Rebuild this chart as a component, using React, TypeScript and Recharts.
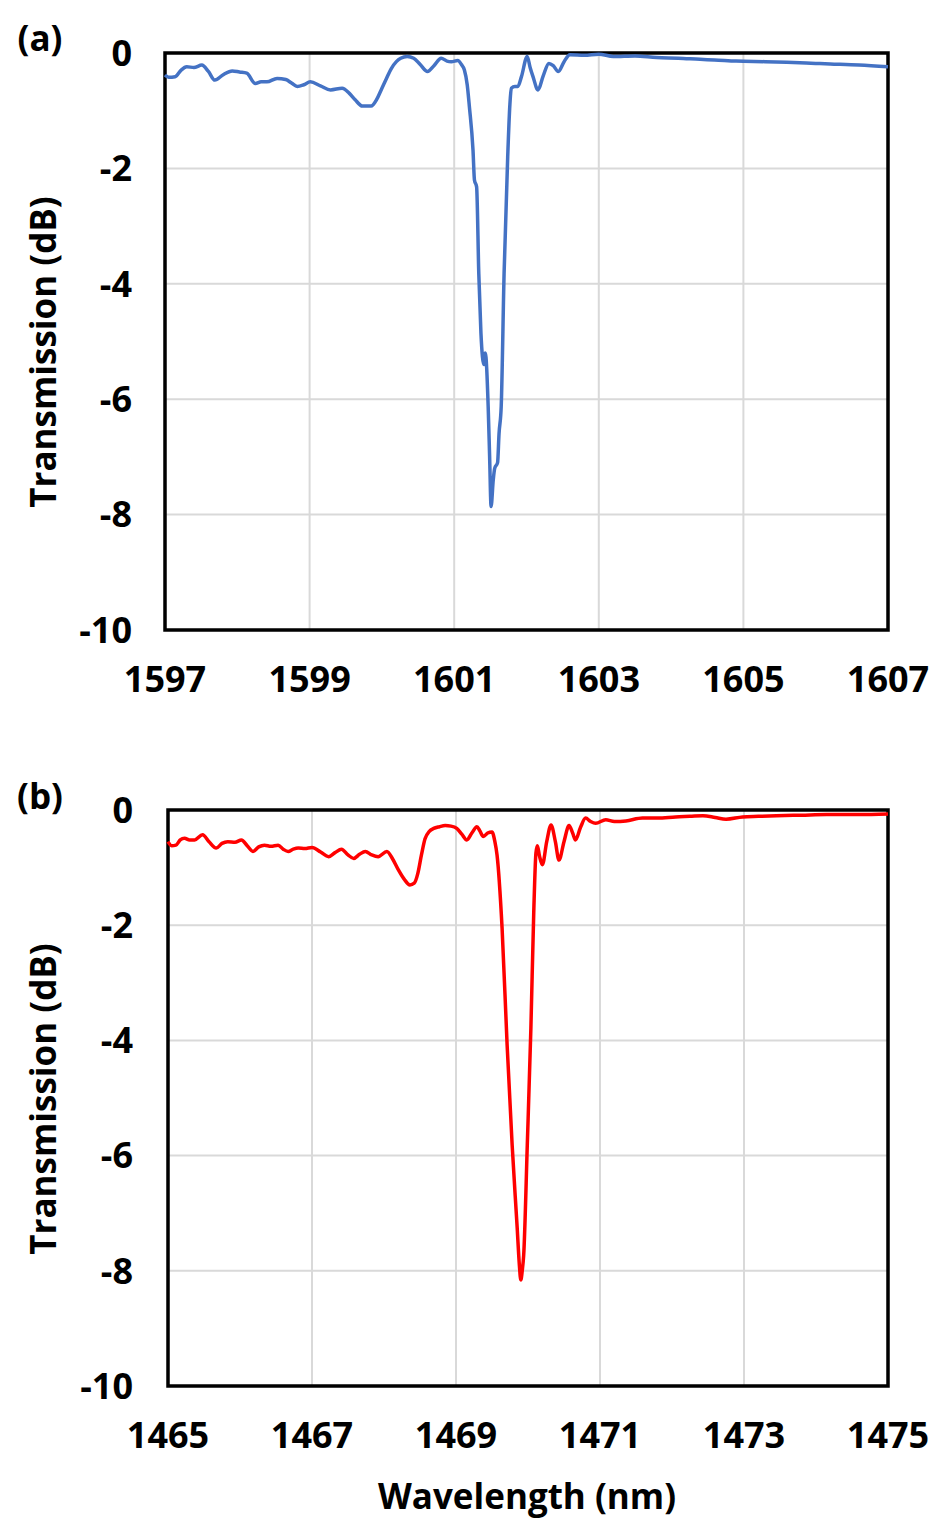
import React from "react"
import {
  CartesianGrid,
  Line,
  LineChart,
  ReferenceArea,
  XAxis,
  YAxis,
} from "recharts"

// (a) spectrum around 1601.5 nm
const wavelengthA = [
  1597.0, 1597.05, 1597.14, 1597.22, 1597.3, 1597.4, 1597.51, 1597.6, 1597.69,
  1597.8, 1597.93, 1598.03, 1598.13, 1598.25, 1598.33, 1598.41, 1598.55,
  1598.67, 1598.75, 1598.83, 1598.92, 1599.01, 1599.15, 1599.29, 1599.45,
  1599.55, 1599.63, 1599.73, 1599.85, 1599.93, 1599.99, 1600.06, 1600.13,
  1600.2, 1600.26, 1600.35, 1600.44, 1600.53, 1600.63, 1600.72, 1600.82,
  1600.9, 1600.96, 1601.05, 1601.1, 1601.14, 1601.18, 1601.21, 1601.26,
  1601.28, 1601.31, 1601.34, 1601.37, 1601.41, 1601.43, 1601.47, 1601.49,
  1601.51, 1601.54, 1601.56, 1601.6, 1601.62, 1601.65, 1601.69, 1601.74,
  1601.77, 1601.79, 1601.84, 1601.88, 1601.93, 1602.01, 1602.05, 1602.09,
  1602.16, 1602.23, 1602.31, 1602.37, 1602.44, 1602.52, 1602.6, 1602.8, 1603.0,
  1603.2, 1603.5, 1603.8, 1604.1, 1604.4, 1604.6, 1604.9, 1605.3, 1605.6,
  1606.0, 1606.2, 1606.6, 1607.0,
]
const transmissionA = [
  -0.38, -0.42, -0.41, -0.3, -0.24, -0.25, -0.21, -0.32, -0.47, -0.38, -0.31,
  -0.33, -0.35, -0.53, -0.5, -0.5, -0.44, -0.46, -0.52, -0.58, -0.55, -0.5,
  -0.57, -0.64, -0.61, -0.7, -0.81, -0.92, -0.92, -0.8, -0.64, -0.45, -0.27,
  -0.15, -0.09, -0.06, -0.09, -0.2, -0.32, -0.22, -0.09, -0.14, -0.15, -0.13,
  -0.2, -0.29, -0.55, -0.93, -1.68, -2.2, -2.32, -3.82, -4.86, -5.4, -5.2,
  -6.13, -7.0, -7.86, -7.4, -7.2, -7.1, -6.6, -6.13, -3.82, -1.8, -0.9, -0.61,
  -0.58, -0.58, -0.41, -0.06, -0.25, -0.41, -0.64, -0.4, -0.18, -0.22, -0.32,
  -0.15, -0.03, -0.04, -0.02, -0.06, -0.05, -0.08, -0.09, -0.11, -0.12, -0.14,
  -0.15, -0.16, -0.18, -0.19, -0.21, -0.24,
]

// (b) spectrum around 1469.9 nm
const wavelengthB = [
  1465.0, 1465.05, 1465.11, 1465.17, 1465.23, 1465.3, 1465.37, 1465.48,
  1465.57, 1465.67, 1465.75, 1465.83, 1465.93, 1466.02, 1466.1, 1466.18,
  1466.26, 1466.34, 1466.43, 1466.53, 1466.6, 1466.67, 1466.74, 1466.81,
  1466.9, 1467.0, 1467.12, 1467.23, 1467.32, 1467.41, 1467.5, 1467.58, 1467.66,
  1467.74, 1467.83, 1467.92, 1468.04, 1468.12, 1468.2, 1468.28, 1468.36,
  1468.42, 1468.47, 1468.52, 1468.57, 1468.63, 1468.69, 1468.77, 1468.85,
  1468.93, 1469.01, 1469.08, 1469.15, 1469.22, 1469.29, 1469.33, 1469.38,
  1469.44, 1469.5, 1469.54, 1469.57, 1469.64, 1469.71, 1469.78, 1469.85,
  1469.88, 1469.9, 1469.92, 1469.94, 1469.99, 1470.04, 1470.08, 1470.11,
  1470.13, 1470.16, 1470.2, 1470.26, 1470.32, 1470.38, 1470.43, 1470.5, 1470.57,
  1470.62, 1470.66, 1470.73, 1470.8, 1470.87, 1470.94, 1471.08, 1471.2,
  1471.36, 1471.59, 1471.8, 1472.05, 1472.25, 1472.43, 1472.6, 1472.75,
  1472.98, 1473.2, 1473.45, 1473.8, 1474.15, 1474.6, 1475.0,
]
const transmissionB = [
  -0.55, -0.62, -0.61, -0.52, -0.49, -0.52, -0.52, -0.43, -0.55, -0.66, -0.58,
  -0.55, -0.56, -0.52, -0.62, -0.72, -0.64, -0.61, -0.63, -0.61, -0.68, -0.72,
  -0.68, -0.66, -0.67, -0.65, -0.73, -0.81, -0.74, -0.68, -0.78, -0.84, -0.77,
  -0.72, -0.78, -0.81, -0.72, -0.85, -1.04, -1.2, -1.3, -1.27, -1.1, -0.78,
  -0.5, -0.37, -0.32, -0.29, -0.27, -0.28, -0.32, -0.42, -0.52, -0.4, -0.29,
  -0.36, -0.46, -0.4, -0.38, -0.55, -0.78, -2.05, -4.08, -5.82, -7.26, -7.9,
  -8.16, -8.0, -7.73, -5.82, -3.79, -1.77, -0.75, -0.62, -0.8, -0.95, -0.55,
  -0.26, -0.55, -0.87, -0.55, -0.27, -0.4, -0.52, -0.3, -0.14, -0.2, -0.23,
  -0.17, -0.2, -0.19, -0.14, -0.14, -0.12, -0.11, -0.1, -0.13, -0.16, -0.12,
  -0.11, -0.1, -0.09, -0.08, -0.08, -0.07,
]

const xTicksA = [1597, 1599, 1601, 1603, 1605, 1607]
const xTicksB = [1465, 1467, 1469, 1471, 1473, 1475]
const yTicks = [0, -2, -4, -6, -8, -10]

const FONT = "'Open Sans', 'DejaVu Sans', sans-serif"
const tickStyle = { fontSize: 36, fontWeight: 700, fill: "#000", fontFamily: FONT }

const toRows = (xs: number[], ys: number[]) =>
  xs.map((wl, i) => ({ wl, t: ys[i] }))

function Panel({
  data,
  ticks,
  color,
  width,
  height,
  marginTop,
  yAxisWidth,
  xAxisHeight,
  yTickMargin,
}: {
  data: Array<{ wl: number; t: number }>
  ticks: number[]
  color: string
  width: number
  height: number
  marginTop: number
  yAxisWidth: number
  xAxisHeight: number
  yTickMargin: number
}) {
  const lo = ticks[0]
  const hi = ticks[ticks.length - 1]
  return (
    <LineChart
      width={width}
      height={height}
      data={data}
      margin={{ top: marginTop, right: 53, left: 0, bottom: 0 }}
    >
      <CartesianGrid
        stroke="#d9d9d9"
        strokeWidth={2}
        verticalValues={ticks.slice(1, -1)}
        horizontalValues={yTicks.slice(1, -1)}
      />
      <XAxis
        dataKey="wl"
        type="number"
        domain={[lo, hi]}
        ticks={ticks}
        interval={0}
        height={xAxisHeight}
        axisLine={false}
        tickLine={false}
        tickSize={8}
        tickMargin={28}
        tick={tickStyle}
      />
      <YAxis
        type="number"
        domain={[-10, 0]}
        ticks={yTicks}
        interval={0}
        width={yAxisWidth}
        axisLine={false}
        tickLine={false}
        tickSize={8}
        tickMargin={yTickMargin}
        tick={tickStyle}
      />
      <ReferenceArea
        x1={lo}
        x2={hi}
        y1={-10}
        y2={0}
        fill="none"
        fillOpacity={0}
        stroke="#000"
        strokeWidth={3.5}
      />
      <Line
        type="monotone"
        dataKey="t"
        stroke={color}
        strokeWidth={3.5}
        dot={false}
        isAnimationActive={false}
      />
    </LineChart>
  )
}

const labelStyle: React.CSSProperties = {
  position: "absolute",
  fontFamily: FONT,
  fontWeight: 700,
  fontSize: 35,
  color: "#000",
  whiteSpace: "nowrap",
  lineHeight: 1,
}

function RotatedLabel({ cx, cy, text }: { cx: number; cy: number; text: string }) {
  return (
    <div
      style={{
        ...labelStyle,
        left: cx,
        top: cy,
        transform: "translate(-50%, -50%) rotate(-90deg)",
      }}
    >
      {text}
    </div>
  )
}

function CenteredLabel({ cx, cy, text }: { cx: number; cy: number; text: string }) {
  return (
    <div style={{ ...labelStyle, left: cx, top: cy, transform: "translate(-50%, -50%)" }}>
      {text}
    </div>
  )
}

export default function App() {
  return (
    <div
      style={{
        position: "absolute",
        left: 0,
        top: 0,
        width: 941,
        height: 1532,
        background: "#fff",
        overflow: "hidden",
      }}
    >
      <div style={{ position: "absolute", left: 0, top: 0 }}>
        <Panel
          data={toRows(wavelengthA, transmissionA)}
          ticks={xTicksA}
          color="#4472C4"
          width={941}
          height={720}
          marginTop={53}
          yAxisWidth={165}
          xAxisHeight={90}
          yTickMargin={25}
        />
      </div>
      <div style={{ position: "absolute", left: 0, top: 720 }}>
        <Panel
          data={toRows(wavelengthB, transmissionB)}
          ticks={xTicksB}
          color="#FF0000"
          width={941}
          height={812}
          marginTop={90}
          yAxisWidth={168}
          xAxisHeight={146}
          yTickMargin={27}
        />
      </div>
      <CenteredLabel cx={40} cy={37} text="(a)" />
      <CenteredLabel cx={40} cy={795} text="(b)" />
      <RotatedLabel cx={42} cy={352} text="Transmission (dB)" />
      <RotatedLabel cx={42} cy={1099} text="Transmission (dB)" />
      <CenteredLabel cx={527} cy={1495} text="Wavelength (nm)" />
    </div>
  )
}
